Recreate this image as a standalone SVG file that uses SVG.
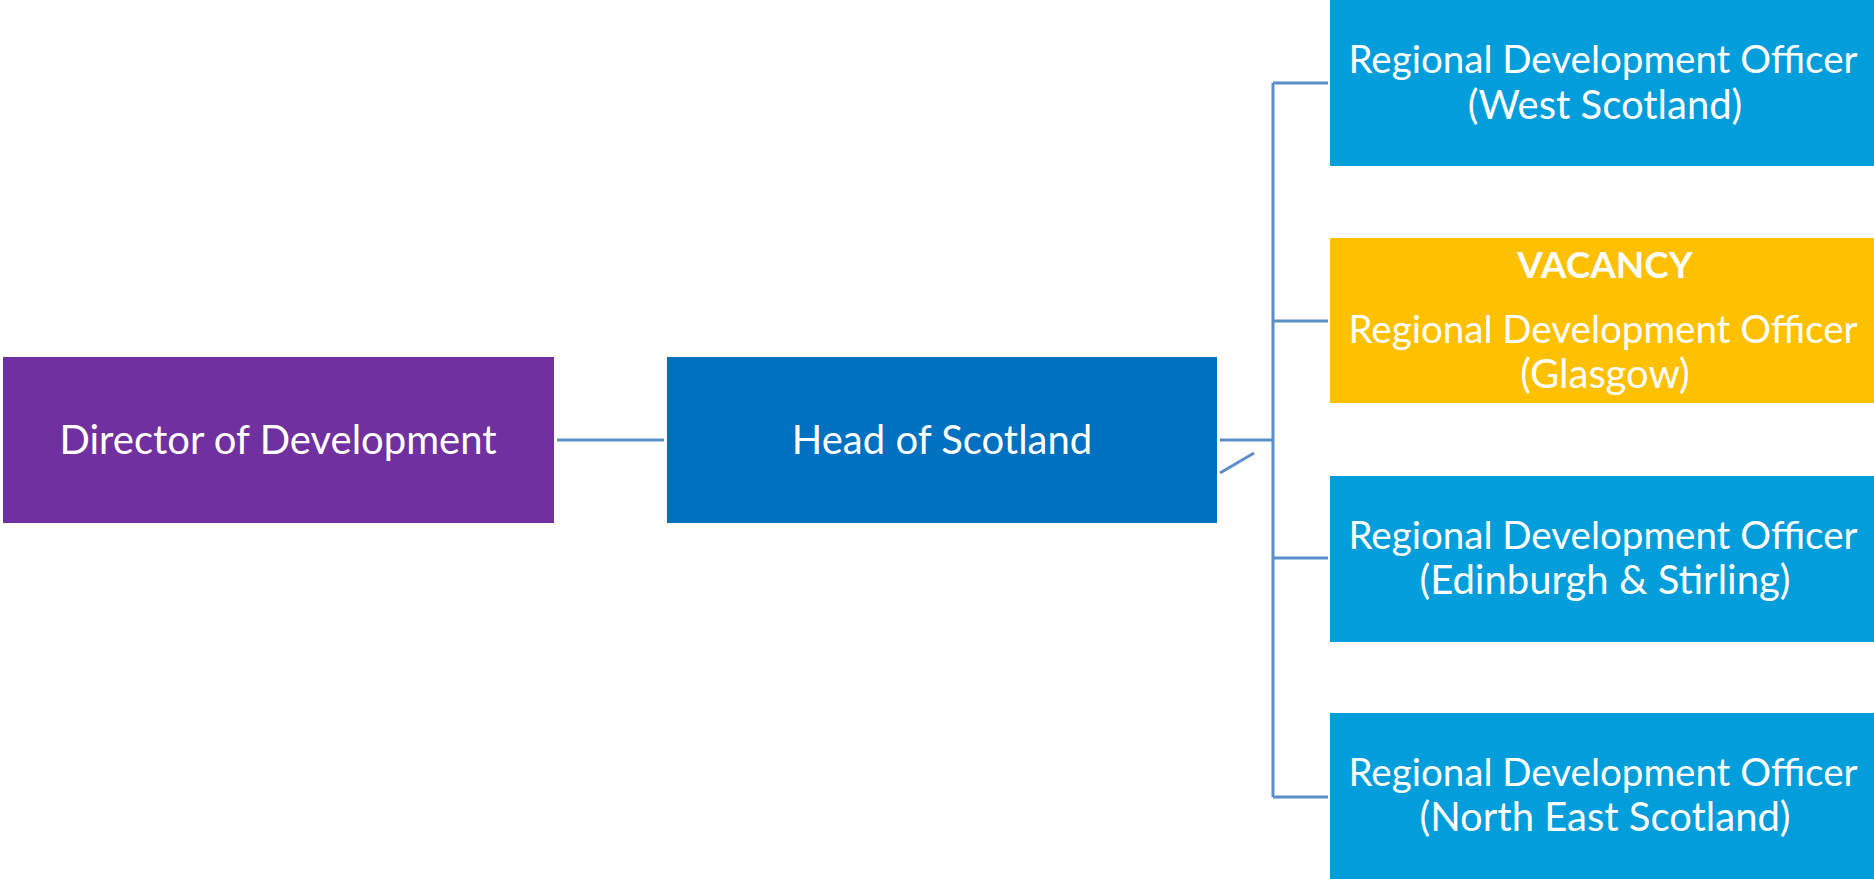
<svg xmlns="http://www.w3.org/2000/svg" width="1874" height="879" viewBox="0 0 1874 879">
<style>
.t{font-family:Lato,"Liberation Sans",sans-serif;font-size:40px;fill:#ffffff;text-anchor:middle}
.r{font-size:38.5px}
.b{font-weight:bold;font-size:37px}
.c{stroke:#5B8FC9;stroke-width:3;fill:none}
</style>
<rect width="1874" height="879" fill="#ffffff"/>
<g id="connectors">
<line class="c" x1="557" y1="440" x2="664" y2="440"/>
<line class="c" x1="1220" y1="440" x2="1273" y2="440"/>
<line class="c" x1="1273" y1="83" x2="1273" y2="797"/>
<line class="c" x1="1273" y1="83" x2="1328" y2="83"/>
<line class="c" x1="1273" y1="321" x2="1328" y2="321"/>
<line class="c" x1="1273" y1="558" x2="1328" y2="558"/>
<line class="c" x1="1273" y1="797" x2="1328" y2="797"/>
<line class="c" x1="1220" y1="473" x2="1254" y2="453"/>
</g>
<g id="director">
<rect x="3" y="357" width="551" height="166" fill="#7030A0"/>
<text class="t" x="278" y="454">Director of Development</text>
</g>
<g id="head">
<rect x="667" y="357" width="550" height="166" fill="#0070C0"/>
<text class="t" x="942" y="454">Head of Scotland</text>
</g>
<g id="rdo-west">
<rect x="1330" y="0" width="544" height="166" fill="#029EDC"/>
<text class="t r" x="1603" y="73">Regional Development Officer</text>
<text class="t" x="1605" y="119">(West Scotland)</text>
</g>
<g id="rdo-glasgow">
<rect x="1330" y="238" width="544" height="165" fill="#FFC000"/>
<text class="t b" x="1605" y="278">VACANCY</text>
<text class="t r" x="1603" y="343">Regional Development Officer</text>
<text class="t" x="1605" y="388">(Glasgow)</text>
</g>
<g id="rdo-edinburgh">
<rect x="1330" y="476" width="544" height="166" fill="#029EDC"/>
<text class="t r" x="1603" y="549">Regional Development Officer</text>
<text class="t" x="1605" y="594">(Edinburgh &amp; Stirling)</text>
</g>
<g id="rdo-northeast">
<rect x="1330" y="713" width="544" height="166" fill="#029EDC"/>
<text class="t r" x="1603" y="786">Regional Development Officer</text>
<text class="t" x="1605" y="831">(North East Scotland)</text>
</g>
</svg>
